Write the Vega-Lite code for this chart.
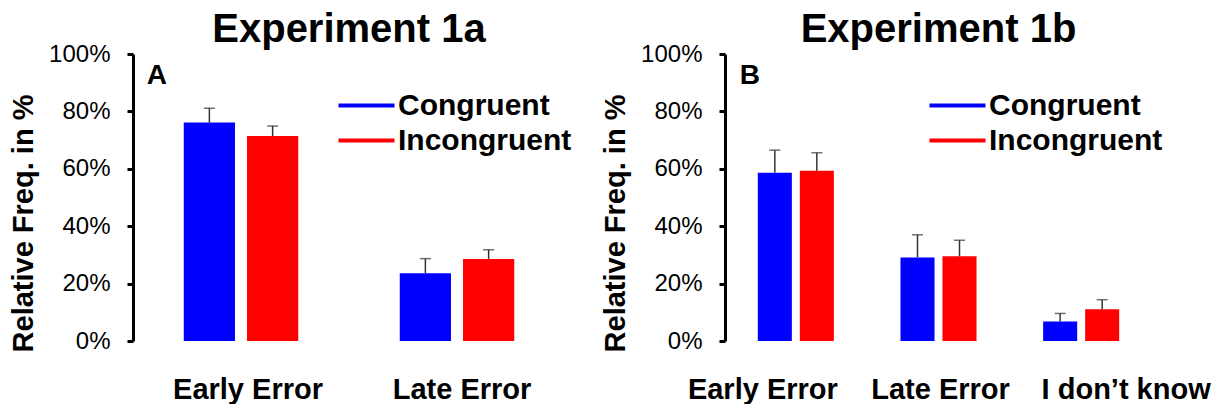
{
  "$schema": "https://vega.github.io/schema/vega-lite/v6.json",
  "background": "white",
  "padding": {"left": 9, "top": 10, "right": 5, "bottom": 0},
  "config": {
    "font": "Liberation Sans",
    "view": {"stroke": null},
    "concat": {"spacing": 29},
    "axisY": {
      "titleFontSize": 29,
      "titleFontWeight": "bold",
      "titleColor": "black",
      "titlePadding": 10,
      "titleY": 169,
      "labelFontSize": 24,
      "labelColor": "black",
      "labelPadding": 17,
      "tickSize": 6,
      "tickWidth": 3,
      "tickColor": "black",
      "domainColor": "black",
      "domainWidth": 3,
      "grid": false
    },
    "axisX": {
      "domain": false,
      "ticks": false,
      "labelFontSize": 29,
      "labelFontWeight": "bold",
      "labelColor": "black",
      "labelPadding": 34,
      "labelAngle": 0,
      "labelOverlap": false,
      "labelBound": false
    },
    "title": {"fontSize": 40, "fontWeight": "bold", "color": "black", "anchor": "middle", "frame": "group", "offset": -8},
    "legend": {
      "orient": "none",
      "symbolType": "M-1.6,0H1.6",
      "symbolSize": 1225,
      "symbolStrokeWidth": 4,
      "labelFontSize": 30,
      "labelFontWeight": "bold",
      "labelColor": "black",
      "labelLimit": 400,
      "rowPadding": 0,
      "labelOffset": 12
    }
  },
  "datasets": {
    "a": [
      {"cat": "Early Error", "cond": "Congruent", "value": 76.1, "upper": 81.1},
      {"cat": "Early Error", "cond": "Incongruent", "value": 71.4, "upper": 74.9},
      {"cat": "Late Error", "cond": "Congruent", "value": 23.6, "upper": 28.7},
      {"cat": "Late Error", "cond": "Incongruent", "value": 28.6, "upper": 31.8}
    ],
    "b": [
      {"cat": "Early Error", "cond": "Congruent", "value": 58.6, "upper": 66.5},
      {"cat": "Early Error", "cond": "Incongruent", "value": 59.3, "upper": 65.6},
      {"cat": "Late Error", "cond": "Congruent", "value": 29.1, "upper": 37.0},
      {"cat": "Late Error", "cond": "Incongruent", "value": 29.5, "upper": 35.1},
      {"cat": "I don’t know", "cond": "Congruent", "value": 6.8, "upper": 9.6},
      {"cat": "I don’t know", "cond": "Incongruent", "value": 11.1, "upper": 14.4}
    ]
  },
  "resolve": {"scale": {"x": "independent", "y": "independent", "xOffset": "independent", "color": "independent"}, "legend": {"color": "independent"}},
  "hconcat": [
    {
      "width": 432,
      "height": 287,
      "title": {"text": "Experiment 1a"},
      "layer": [
        {
          "data": {"name": "a"},
          "mark": {"type": "bar"},
          "encoding": {
            "x": {"field": "cat", "type": "nominal", "sort": ["Early Error", "Late Error"],
                  "scale": {"paddingInner": 0.47, "paddingOuter": 0.235},
                  "axis": {"title": null, "labelOffset": {"condition": {"test": "datum.value === 'Early Error'", "value": 7}, "value": 5}}},
            "xOffset": {"field": "cond", "type": "nominal", "scale": {"paddingInner": 0.19}},
            "y": {"field": "value", "type": "quantitative", "scale": {"domain": [0, 100]},
                  "axis": {"title": "Relative Freq. in %", "values": [0, 20, 40, 60, 80, 100], "labelExpr": "datum.value + '%'"}},
            "color": {"field": "cond", "type": "nominal",
                      "scale": {"domain": ["Congruent", "Incongruent"], "range": ["#0000FF", "#FF0000"]},
                      "legend": {"title": null, "legendX": 214, "legendY": 32,
                                 "encode": {"symbols": {"update": {"stroke": {"signal": "datum.value === 'Congruent' ? '#0000FF' : '#FF0000'"}}}}}}
          }
        },
        {
          "data": {"name": "a"},
          "mark": {"type": "rule", "color": "#333333", "strokeWidth": 1.5},
          "encoding": {
            "x": {"field": "cat", "type": "nominal", "sort": ["Early Error", "Late Error"]},
            "xOffset": {"field": "cond", "type": "nominal"},
            "y": {"field": "value", "type": "quantitative"},
            "y2": {"field": "upper"}
          }
        },
        {
          "data": {"name": "a"},
          "mark": {"type": "tick", "color": "#333333", "thickness": 1.5, "size": 11},
          "encoding": {
            "x": {"field": "cat", "type": "nominal", "sort": ["Early Error", "Late Error"]},
            "xOffset": {"field": "cond", "type": "nominal"},
            "y": {"field": "upper", "type": "quantitative"}
          }
        },
        {
          "data": {"values": [{"label": "A"}]},
          "mark": {"type": "text", "fontSize": 28, "fontWeight": "bold", "color": "black", "align": "left", "baseline": "middle", "dx": -37},
          "encoding": {
            "x": {"datum": "Early Error", "bandPosition": 0},
            "y": {"datum": 92.5},
            "text": {"field": "label"}
          }
        }
      ]
    },
    {
      "width": 427,
      "height": 287,
      "title": {"text": "Experiment 1b"},
      "layer": [
        {
          "data": {"name": "b"},
          "mark": {"type": "bar"},
          "encoding": {
            "x": {"field": "cat", "type": "nominal", "sort": ["Early Error", "Late Error", "I don’t know"],
                  "scale": {"paddingInner": 0.467, "paddingOuter": 0.23},
                  "axis": {"title": null, "labelOffset": {"condition": [{"test": "datum.value === 'Early Error'", "value": -33}, {"test": "datum.value === 'Late Error'", "value": 2}], "value": 45}}},
            "xOffset": {"field": "cond", "type": "nominal", "scale": {"paddingInner": 0.19}},
            "y": {"field": "value", "type": "quantitative", "scale": {"domain": [0, 100]},
                  "axis": {"title": "Relative Freq. in %", "values": [0, 20, 40, 60, 80, 100], "labelExpr": "datum.value + '%'"}},
            "color": {"field": "cond", "type": "nominal",
                      "scale": {"domain": ["Congruent", "Incongruent"], "range": ["#0000FF", "#FF0000"]},
                      "legend": {"title": null, "legendX": 213, "legendY": 32,
                                 "encode": {"symbols": {"update": {"stroke": {"signal": "datum.value === 'Congruent' ? '#0000FF' : '#FF0000'"}}}}}}
          }
        },
        {
          "data": {"name": "b"},
          "mark": {"type": "rule", "color": "#333333", "strokeWidth": 1.5},
          "encoding": {
            "x": {"field": "cat", "type": "nominal", "sort": ["Early Error", "Late Error", "I don’t know"]},
            "xOffset": {"field": "cond", "type": "nominal"},
            "y": {"field": "value", "type": "quantitative"},
            "y2": {"field": "upper"}
          }
        },
        {
          "data": {"name": "b"},
          "mark": {"type": "tick", "color": "#333333", "thickness": 1.5, "size": 11},
          "encoding": {
            "x": {"field": "cat", "type": "nominal", "sort": ["Early Error", "Late Error", "I don’t know"]},
            "xOffset": {"field": "cond", "type": "nominal"},
            "y": {"field": "upper", "type": "quantitative"}
          }
        },
        {
          "data": {"values": [{"label": "B"}]},
          "mark": {"type": "text", "fontSize": 28, "fontWeight": "bold", "color": "black", "align": "left", "baseline": "middle", "dx": -18},
          "encoding": {
            "x": {"datum": "Early Error", "bandPosition": 0},
            "y": {"datum": 92.5},
            "text": {"field": "label"}
          }
        }
      ]
    }
  ]
}
